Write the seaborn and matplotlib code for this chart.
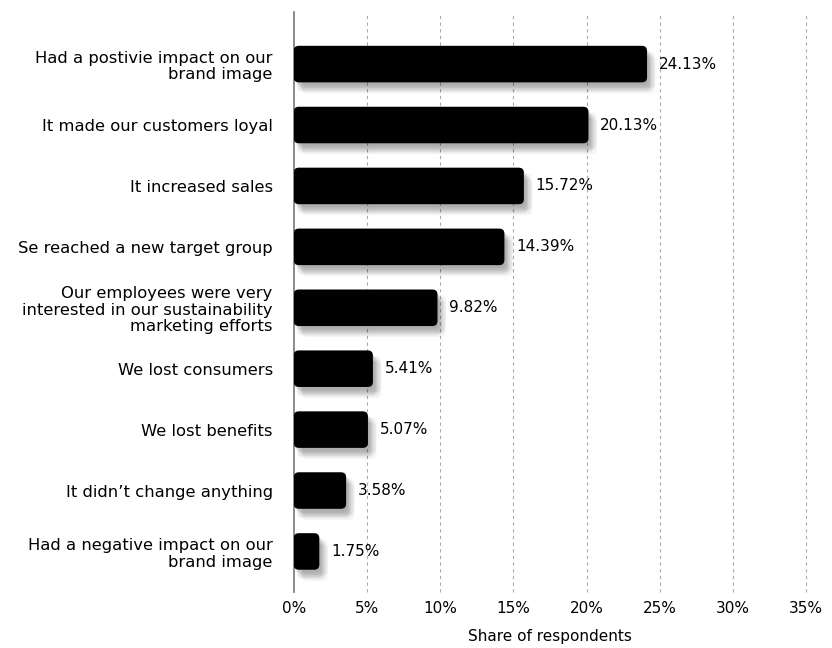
"""
Effects of sustainability marketing - horizontal bar chart.
"""

import pandas as pd
import matplotlib.pyplot as plt
import matplotlib.patheffects as pe
from matplotlib.patches import FancyBboxPatch
import seaborn as sns

CATEGORIES = [
    "Had a postivie impact on our\nbrand image",
    "It made our customers loyal",
    "It increased sales",
    "Se reached a new target group",
    "Our employees were very\ninterested in our sustainability\nmarketing efforts",
    "We lost consumers",
    "We lost benefits",
    "It didn\u2019t change anything",
    "Had a negative impact on our\nbrand image",
]
SHARES = [24.13, 20.13, 15.72, 14.39, 9.82, 5.41, 5.07, 3.58, 1.75]
X_TICKS = [0, 5, 10, 15, 20, 25, 30, 35]

sns.set_theme(style="white")
plt.rcParams["font.family"] = ["DejaVu Sans"]

df = pd.DataFrame({"category": CATEGORIES, "share": SHARES})

fig = plt.figure(figsize=(8.32, 6.48), dpi=100)
ax = fig.add_axes([0.353, 0.086, 0.616, 0.895])

sns.barplot(data=df, x="share", y="category", color="black",
            width=0.6, ax=ax, zorder=3)

ax.set_xlim(0, 35)
ax.set_ylim(8.67, -0.85)

# swap plain bars for rounded ones with a soft, blurry-ish shadow
shadow = [pe.SimplePatchShadow(offset=(dx, -dy), shadow_rgbFace="#000000", alpha=0.04)
          for dx, dy in [(1, 2), (2, 3), (3, 4), (4, 5), (5, 6), (6, 8), (3, 7), (6, 4), (2, 6)]]
shadow.append(pe.Normal())
for bar in list(ax.patches):
    x, y = bar.get_x(), bar.get_y()
    w, h = bar.get_width(), bar.get_height()
    bar.remove()
    rounded = FancyBboxPatch(
        (x, y), w, h,
        boxstyle="round,pad=0,rounding_size=0.35",
        mutation_aspect=0.24,
        facecolor="black", edgecolor="none", zorder=3,
    )
    rounded.set_path_effects(shadow)
    ax.add_patch(rounded)

for i, v in enumerate(SHARES):
    ax.text(v + 0.8, i, f"{v:.2f}%", va="center", ha="left",
            fontsize=11, color="black")

ax.set_xticks(X_TICKS)
ax.set_xticklabels([f"{t}%" for t in X_TICKS], fontsize=11, color="black")
ax.tick_params(axis="x", length=0, pad=6)
ax.tick_params(axis="y", length=0, pad=15, labelsize=11.8, labelcolor="black")
for lbl in ax.get_yticklabels():
    lbl.set_horizontalalignment("right")
    lbl.set_multialignment("right")
    lbl.set_linespacing(1.15)

ax.grid(axis="x", color="#aaaaaa", linestyle=(0, (3, 3)), linewidth=0.8, zorder=0)
ax.grid(axis="y", visible=False)
for t, line in zip(X_TICKS, ax.get_xgridlines()):
    line.set_clip_on(False)
    if t == 0:
        line.set_visible(False)

for side in ["top", "right", "bottom"]:
    ax.spines[side].set_visible(False)
ax.spines["left"].set_color("#777777")
ax.spines["left"].set_linewidth(1.2)

ax.set_xlabel("Share of respondents", fontsize=11, color="black")
ax.xaxis.set_label_coords(0.5, -0.063)
ax.set_ylabel("")

plt.savefig("out.png", dpi=100)
plt.close()
